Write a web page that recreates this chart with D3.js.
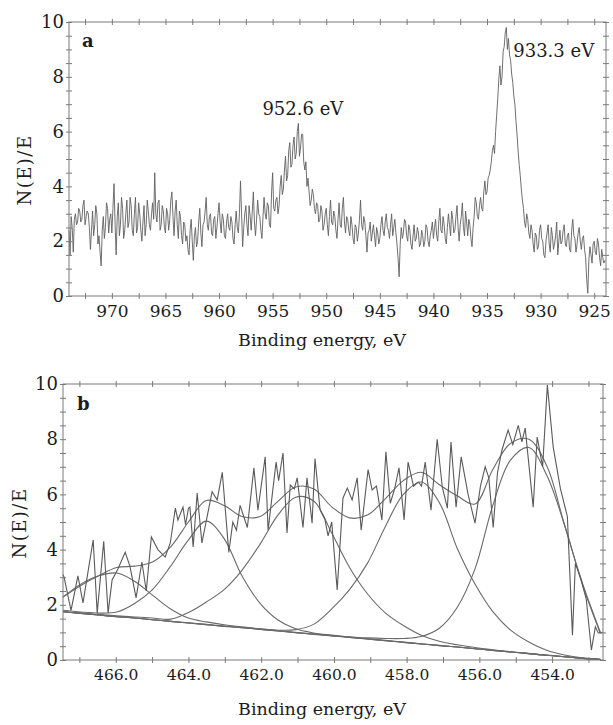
<!DOCTYPE html>
<html>
<head>
<meta charset="utf-8">
<script src="https://cdn.jsdelivr.net/npm/d3@7"></script>
<style>
  body { margin: 0; background: #fff; }
  svg text { font-family: "DejaVu Serif", serif; fill: #1c1c1c; }
</style>
</head>
<body>
<svg id="chart" width="613" height="725"></svg>
<script>
// ---- panel a : Cu 2p, raw counts every 0.1 eV from 974.0 down to 924.0 ----
let topStart = 974.0, topStep = 0.1;
let topCounts = [
  2.4, 1.5, 2.9, 2.5, 1.6, 2.8, 3.0, 2.6, 2.7, 3.2, 3.1, 2.7, 2.8, 3.3, 3.5, 2.6, 2.9, 3.1, 3.0, 2.5,
  1.7, 2.4, 3.1, 2.2, 2.6, 3.3, 3.0, 1.9, 2.2, 1.6, 1.1, 2.4, 2.9, 2.1, 2.5, 3.4, 3.2, 2.3, 2.8, 3.0,
  2.3, 3.2, 4.1, 2.6, 1.5, 2.9, 3.4, 2.2, 2.6, 3.6, 3.2, 2.1, 2.4, 3.0, 3.5, 2.5, 2.7, 3.6, 3.3, 2.4,
  2.2, 3.0, 3.6, 2.3, 2.5, 3.4, 3.0, 2.4, 2.0, 2.7, 3.3, 2.2, 2.6, 3.5, 3.1, 2.6, 2.4, 3.0, 3.4, 2.8,
  4.5, 3.0, 2.7, 3.4, 3.5, 2.4, 2.6, 3.3, 3.1, 2.5, 2.3, 3.2, 3.0, 2.4, 2.8, 3.5, 3.8, 2.9, 2.2, 3.1,
  3.5, 2.6, 2.1, 3.1, 2.9, 2.2, 1.9, 2.7, 2.6, 2.0, 2.2, 1.7, 1.5, 2.4, 2.8, 2.0, 1.3, 2.2, 2.5, 1.8,
  2.0, 2.7, 3.2, 2.3, 1.8, 2.6, 2.7, 3.1, 3.6, 2.6, 2.4, 2.9, 3.0, 2.3, 2.2, 2.8, 2.9, 2.1, 2.5, 3.0,
  3.4, 2.7, 2.3, 3.0, 2.8, 2.2, 2.1, 2.7, 3.0, 2.5, 2.4, 2.9, 2.7, 2.1, 1.9, 2.6, 3.1, 2.5, 2.3, 3.0,
  4.2, 3.0, 1.8, 2.5, 3.0, 3.3, 2.6, 2.2, 3.3, 2.9, 2.4, 3.1, 3.8, 2.7, 2.2, 2.8, 3.5, 3.0, 2.9, 2.4,
  2.1, 2.9, 3.6, 3.0, 2.8, 3.4, 3.3, 2.6, 2.5, 3.8, 4.5, 3.2, 3.1, 3.5, 3.6, 3.0, 3.3, 4.0, 4.4, 3.7,
  3.9, 4.6, 5.1, 4.2, 4.4, 5.3, 5.6, 4.7, 4.8, 5.5, 5.8, 5.0, 5.2, 6.0, 6.3, 5.1, 5.4, 5.9, 5.9, 4.9,
  4.6, 4.9, 4.0, 4.3, 3.8, 3.3, 3.5, 3.9, 3.7, 3.2, 3.0, 3.4, 3.3, 2.7, 2.8, 3.3, 3.1, 2.4, 2.6, 3.0,
  3.2, 2.6, 2.2, 2.9, 3.5, 2.7, 2.6, 3.1, 2.9, 2.4, 2.1, 2.8, 3.4, 2.6, 2.5, 3.2, 3.6, 2.7, 2.3, 2.9,
  2.8, 2.4, 2.2, 2.9, 2.6, 2.1, 1.9, 2.6, 2.5, 2.0, 2.3, 2.8, 3.5, 2.6, 2.4, 2.9, 2.7, 2.2, 1.6, 2.3,
  2.4, 2.7, 2.0, 2.3, 2.6, 2.2, 1.8, 2.5, 2.3, 1.9, 2.1, 2.6, 2.9, 2.4, 2.2, 2.7, 3.0, 2.5, 2.4, 2.1,
  2.6, 3.0, 2.2, 2.5, 2.8, 2.3, 1.9, 1.4, 0.7, 1.9, 2.5, 2.1, 2.3, 2.8, 2.7, 2.2, 2.0, 2.6, 2.4, 1.9,
  1.7, 2.2, 2.6, 2.0, 2.1, 2.5, 2.3, 1.8, 1.9, 2.4, 2.2, 1.8, 2.0, 2.6, 2.5, 2.0, 1.8, 2.2, 2.4, 2.7,
  2.1, 2.5, 2.8, 2.2, 2.0, 2.7, 3.2, 2.4, 2.3, 2.9, 2.6, 2.1, 1.9, 2.5, 3.0, 2.6, 2.2, 3.1, 2.8, 2.3,
  2.4, 2.9, 3.3, 2.5, 2.0, 2.6, 2.9, 3.4, 2.5, 2.2, 3.1, 2.7, 2.2, 2.8, 2.6, 2.1, 1.8, 2.5, 2.9, 3.6,
  3.4, 2.9, 2.8, 3.3, 3.6, 3.2, 3.1, 3.8, 4.2, 3.7, 3.8, 4.3, 4.4, 4.6, 4.9, 5.3, 5.5, 5.2, 6.0, 6.6,
  7.2, 7.9, 8.4, 7.7, 8.0, 8.9, 9.1, 9.6, 9.8, 9.0, 9.4, 8.8, 8.6, 8.1, 7.8, 7.3, 7.0, 6.4, 5.9, 5.3,
  4.8, 4.4, 3.9, 3.5, 3.2, 2.7, 2.5, 3.0, 2.8, 2.3, 2.1, 2.6, 2.4, 1.9, 1.6, 2.3, 2.2, 1.7, 1.8, 2.4,
  2.6, 2.1, 2.0, 1.5, 1.4, 2.0, 2.3, 2.6, 1.9, 1.6, 2.5, 2.2, 1.7, 1.9, 2.2, 2.7, 1.5, 2.0, 2.4, 1.9,
  2.0, 2.4, 2.6, 1.9, 1.8, 2.2, 2.3, 1.7, 1.6, 2.4, 2.8, 2.2, 2.1, 1.6, 1.9, 2.3, 2.5, 2.0, 1.7, 2.1,
  2.2, 1.7, 1.4, 0.6, 0.1, 1.3, 1.8, 1.5, 1.2, 1.9, 2.0, 1.6, 1.5, 2.1, 1.9, 1.4, 1.1, 1.7, 1.4, 1.2,
  1.3
];
let topTicks = [970, 965, 960, 955, 950, 945, 940, 935, 930, 925];
let topPeaks = [{e: 952.6, label: '952.6 eV'}, {e: 933.3, label: '933.3 eV'}];

// ---- panel b : Ti 2p, raw trace [eV, N(E)/E] ----
let botRaw = [
  [467.45, 3.1], [467.42, 3.0], [467.23, 1.8], [467.04, 3.05], [466.90, 2.07],
  [466.62, 4.35], [466.51, 1.7], [466.33, 4.3], [466.21, 1.7], [466.10, 2.9],
  [465.94, 3.3], [465.74, 3.9], [465.61, 3.4], [465.44, 2.25], [465.28, 3.55],
  [465.16, 2.5], [465.02, 4.46], [464.84, 4.0], [464.64, 3.73], [464.50, 4.24],
  [464.36, 5.5], [464.29, 5.07], [464.15, 5.54], [464.08, 4.9], [464.0, 5.5],
  [463.96, 5.54], [463.87, 4.1], [463.76, 6.05], [463.63, 4.24], [463.35, 6.1],
  [463.21, 5.8], [463.07, 6.8], [462.89, 3.9], [462.78, 5.0], [462.68, 4.7],
  [462.58, 5.6], [462.38, 4.8], [462.20, 6.96], [462.09, 5.43], [461.89, 7.36],
  [461.81, 4.7], [461.59, 7.17], [461.52, 6.5], [461.40, 7.5], [461.29, 4.6],
  [461.20, 6.34], [461.09, 6.2], [461.01, 6.6], [460.85, 4.8], [460.74, 6.6],
  [460.60, 4.96], [460.52, 7.3], [460.38, 5.43], [460.25, 5.1], [460.16, 4.5],
  [460.06, 5.0], [459.91, 2.54], [459.75, 5.87], [459.63, 6.23], [459.50, 5.8],
  [459.36, 6.6], [459.25, 4.7], [459.06, 6.9], [458.95, 6.16], [458.83, 6.3],
  [458.68, 5.07], [458.57, 7.54], [458.45, 5.68], [458.33, 6.2], [458.21, 6.96],
  [458.07, 5.07], [457.96, 7.17], [457.81, 6.3], [457.68, 6.45], [457.59, 6.3],
  [457.49, 7.17], [457.33, 5.43], [457.16, 8.0], [457.02, 6.27], [456.88, 5.5],
  [456.78, 7.9], [456.64, 5.54], [456.50, 7.36], [456.31, 6.0], [456.12, 4.96],
  [455.97, 6.3], [455.84, 7.0], [455.74, 6.6], [455.62, 4.8], [455.50, 6.8],
  [455.38, 7.6], [455.21, 8.33], [455.08, 7.8], [454.93, 8.5], [454.83, 7.9],
  [454.74, 8.4], [454.52, 5.54], [454.41, 8.08], [454.26, 7.0], [454.13, 9.96],
  [453.97, 7.72], [453.77, 6.2], [453.58, 5.2], [453.44, 0.9], [453.36, 3.5],
  [453.22, 3.0], [453.06, 2.2], [452.92, 0.36], [452.81, 1.2], [452.73, 0.98],
  [452.61, 1.0]
];
// fitted curves, sampled on a common energy grid
let fitE = [467.45, 466.96, 466.47, 465.97, 465.48, 464.99, 464.49, 464.0, 463.51, 463.02,
  462.53, 462.03, 461.54, 461.05, 460.55, 460.06, 459.57, 459.08, 458.58, 458.09,
  457.6, 457.1, 456.61, 456.12, 455.63, 455.14, 454.64, 454.15, 453.66, 453.17, 452.67];
let fitBackground = [1.75, 1.69, 1.63, 1.57, 1.52, 1.46, 1.40, 1.34, 1.28, 1.22,
  1.17, 1.11, 1.05, 0.99, 0.93, 0.87, 0.82, 0.76, 0.70, 0.64,
  0.58, 0.52, 0.47, 0.41, 0.35, 0.29, 0.23, 0.17, 0.12, 0.06, 0.02];
let fitPeak1 = [2.28, 2.75, 3.05, 3.15, 2.85, 2.35, 1.85, 1.52, 1.38, 1.28,
  1.2, 1.13, 1.07, 1.0, 0.94, 0.88, 0.82, 0.76, 0.70, 0.64,
  0.58, 0.52, 0.47, 0.41, 0.35, 0.29, 0.23, 0.17, 0.12, 0.06, 0.02];
let fitPeak2 = [1.8, 1.74, 1.7, 1.74, 2.05, 2.55, 3.4, 4.35, 5.03, 4.4,
  3.05, 2.05, 1.45, 1.13, 0.98, 0.9, 0.83, 0.77, 0.71, 0.65,
  0.59, 0.53, 0.47, 0.41, 0.35, 0.29, 0.23, 0.17, 0.12, 0.06, 0.02];
let fitPeak3 = [1.76, 1.7, 1.65, 1.6, 1.56, 1.52, 1.48, 1.72, 2.1, 2.55,
  3.25, 4.2, 5.25, 5.9, 5.75, 4.6, 3.35, 2.4, 1.7, 1.25,
  0.9, 0.68, 0.55, 0.45, 0.37, 0.3, 0.24, 0.18, 0.12, 0.06, 0.02];
let fitPeak4 = [1.75, 1.69, 1.63, 1.57, 1.52, 1.46, 1.40, 1.35, 1.29, 1.23,
  1.18, 1.12, 1.08, 1.1, 1.3, 1.85, 2.55, 3.5, 4.85, 6.0,
  6.45, 5.7, 4.05, 2.75, 1.75, 1.08, 0.65, 0.35, 0.18, 0.08, 0.03];
let fitPeak5 = [1.75, 1.69, 1.63, 1.57, 1.52, 1.46, 1.40, 1.34, 1.28, 1.22,
  1.17, 1.11, 1.05, 0.99, 0.94, 0.88, 0.84, 0.8, 0.78, 0.78,
  0.85, 1.15, 1.9, 3.3, 5.6, 7.25, 7.7, 6.7, 4.9, 2.75, 0.95];
let fitEnvelope = [2.28, 2.7, 3.05, 3.35, 3.4, 3.55, 4.1, 5.0, 5.78, 5.6,
  5.2, 5.2, 5.75, 6.27, 6.2, 5.55, 5.15, 5.25, 5.85, 6.5,
  6.8, 6.35, 5.95, 5.65, 6.9, 7.85, 8.0, 7.05, 4.9, 2.8, 1.0];
let botTicks = [466, 464, 462, 460, 458, 456, 454];

let yTicks = [0, 2, 4, 6, 8, 10];

let svg = d3.select('#chart');

// one framed panel with crossing ticks on all four sides
let drawFrame = function (g, x, y, w, h, xMinor, xMajor, xFmt, xFont) {
  let yMinor = d3.range(0, 10.01, 0.5);
  g.append('rect')
    .attr('width', w).attr('height', h)
    .attr('fill', 'none').attr('stroke', '#7a7a7a').attr('stroke-width', 1);

  let tickAxes = [
    [d3.axisBottom(x), 0, h], [d3.axisTop(x), 0, h],
    [d3.axisBottom(x), 0, 0], [d3.axisTop(x), 0, 0]
  ];
  tickAxes.forEach(function (a) {
    g.append('g')
      .attr('class', 'ticks')
      .attr('transform', 'translate(' + a[1] + ',' + a[2] + ')')
      .call(a[0].tickValues(xMinor).tickSize(3).tickFormat(''));
  });
  [[d3.axisLeft(y), 0], [d3.axisRight(y), 0], [d3.axisLeft(y), w], [d3.axisRight(y), w]]
    .forEach(function (a) {
      g.append('g')
        .attr('class', 'ticks')
        .attr('transform', 'translate(' + a[1] + ',0)')
        .call(a[0].tickValues(yMinor).tickSize(3).tickFormat(''));
    });
  g.selectAll('.ticks .domain').remove();
  g.selectAll('.ticks line').attr('stroke', '#7a7a7a');

  // tick labels
  let xl = g.append('g')
    .attr('transform', 'translate(0,' + h + ')')
    .call(d3.axisBottom(x).tickValues(xMajor).tickSize(0).tickPadding(9).tickFormat(xFmt));
  xl.select('.domain').remove();
  xl.selectAll('text').attr('font-size', xFont).attr('font-family', '"DejaVu Serif", serif').attr('fill', '#1c1c1c');

  let yl = g.append('g')
    .call(d3.axisLeft(y).tickValues(yTicks).tickSize(0).tickPadding(5));
  yl.select('.domain').remove();
  yl.selectAll('text').attr('font-size', 18).attr('font-family', '"DejaVu Serif", serif').attr('fill', '#1c1c1c');
};

// ---------------- panel a ----------------
let aLeft = 69, aTop = 22, aW = 537, aH = 274;
let ga = svg.append('g').attr('transform', 'translate(' + aLeft + ',' + aTop + ')');
let xa = d3.scaleLinear().domain([974, 923.9]).range([0, aW]);
let ya = d3.scaleLinear().domain([0, 10]).range([aH, 0]);

ga.append('path')
  .datum(topCounts)
  .attr('fill', 'none')
  .attr('stroke', '#606060')
  .attr('stroke-width', 0.9)
  .attr('d', d3.line()
    .x(function (d, i) { return xa(topStart - i * topStep); })
    .y(function (d) { return ya(d); }));

drawFrame(ga, xa, ya, aW, aH, d3.range(972.5, 923.9, -2.5), topTicks, d3.format('d'), 17);

ga.append('text').attr('x', 13).attr('y', 25).attr('font-size', 18).attr('font-weight', 'bold').text('a');
ga.append('text').attr('x', xa(topPeaks[0].e) - 36).attr('y', 93).attr('font-size', 18).text(topPeaks[0].label);
ga.append('text').attr('x', xa(topPeaks[1].e) + 8).attr('y', 35).attr('font-size', 18).text(topPeaks[1].label);

svg.append('text').attr('x', 322).attr('y', 346).attr('text-anchor', 'middle')
  .attr('font-size', 17.5).text('Binding energy, eV');
svg.append('text').attr('transform', 'translate(31,170) rotate(-90)').attr('text-anchor', 'middle')
  .attr('font-size', 18).attr('letter-spacing', 1.5).text('N(E)/E');

// ---------------- panel b ----------------
let bLeft = 63, bTop = 384, bW = 540, bH = 276;
let gb = svg.append('g').attr('transform', 'translate(' + bLeft + ',' + bTop + ')');
let xb = d3.scaleLinear().domain([467.45, 452.6]).range([0, bW]);
let yb = d3.scaleLinear().domain([0, 10]).range([bH, 0]);

let fitLine = d3.line()
  .x(function (d, i) { return xb(fitE[i]); })
  .y(function (d) { return yb(d); })
  .curve(d3.curveCatmullRom);

[fitBackground, fitPeak1, fitPeak2, fitPeak3, fitPeak4, fitPeak5, fitEnvelope].forEach(function (s) {
  gb.append('path')
    .datum(s)
    .attr('fill', 'none')
    .attr('stroke', '#6a6a6a')
    .attr('stroke-width', 1.1)
    .attr('d', fitLine);
});

gb.append('path')
  .datum(botRaw)
  .attr('fill', 'none')
  .attr('stroke', '#5a5a5a')
  .attr('stroke-width', 1.1)
  .attr('d', d3.line()
    .x(function (d) { return xb(d[0]); })
    .y(function (d) { return yb(d[1]); }));

drawFrame(gb, xb, yb, bW, bH, d3.range(467, 452.6, -1), botTicks, d3.format('.1f'), 15.5);

gb.append('text').attr('x', 14).attr('y', 26).attr('font-size', 18).attr('font-weight', 'bold').text('b');

svg.append('text').attr('x', 322).attr('y', 715).attr('text-anchor', 'middle')
  .attr('font-size', 17.5).text('Binding energy, eV');
svg.append('text').attr('transform', 'translate(26,523) rotate(-90)').attr('text-anchor', 'middle')
  .attr('font-size', 18).attr('letter-spacing', 1.5).text('N(E)/E');
</script>
</body>
</html>
